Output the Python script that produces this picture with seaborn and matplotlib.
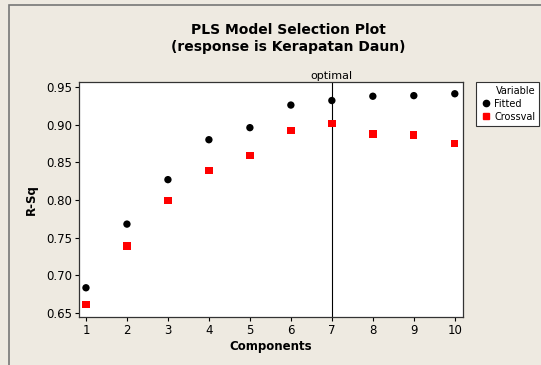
import matplotlib
matplotlib.use("Agg")
import matplotlib.pyplot as plt
import seaborn as sns
import pandas as pd
from matplotlib.patches import Rectangle
from matplotlib.lines import Line2D

components = [1, 2, 3, 4, 5, 6, 7, 8, 9, 10]
fitted = [0.6835, 0.768, 0.827, 0.880, 0.896, 0.926, 0.932, 0.9377, 0.9385, 0.941]
crossval = [0.661, 0.739, 0.799, 0.839, 0.859, 0.8926, 0.9014, 0.8877, 0.8864, 0.8753]
optimal = 7
yticks = [0.65, 0.70, 0.75, 0.80, 0.85, 0.90, 0.95]

df = pd.DataFrame({
    "Components": components * 2,
    "R-Sq": fitted + crossval,
    "Variable": ["Fitted"] * len(components) + ["Crossval"] * len(components),
})

sns.set_style("white")
plt.rcParams['font.family'] = ['DejaVu Sans']
for k in ["text.color", "axes.labelcolor", "xtick.color", "ytick.color"]:
    plt.rcParams[k] = "black"
bg = "#EEEAE1"
fig = plt.figure(figsize=(5.41, 3.65), dpi=100, facecolor=bg)
ax = fig.add_axes([79/541, 1-317/365, (463-79)/541, (317-82)/365])
ax.set_facecolor("white")

sns.scatterplot(data=df, x="Components", y="R-Sq", hue="Variable", style="Variable",
                palette={"Fitted": "black", "Crossval": "#FF0000"},
                markers={"Fitted": "o", "Crossval": "s"},
                s=28, linewidth=0, legend=False, ax=ax, zorder=3)

ax.axvline(optimal, color="black", lw=0.8, zorder=2)
ax.text(optimal, 0.9575, "optimal", ha="center", va="bottom", fontsize=8)

ax.set_xlim(0.83, 10.2)
ax.set_ylim(0.6447, 0.9566)
ax.set_xticks(components)
ax.set_yticks(yticks)
ax.set_yticklabels([f"{v:.2f}" for v in yticks])
ax.tick_params(axis="both", labelsize=8.5, length=3, width=0.8, direction="out",
               bottom=True, left=True, pad=2)
for sp in ax.spines.values():
    sp.set_color("#333333")
    sp.set_linewidth(0.9)
ax.set_xlabel("Components", fontsize=8.5, fontweight="bold", labelpad=2)
ax.set_ylabel("R-Sq", fontsize=8.5, fontweight="bold", labelpad=6)

fig.text(288/541, 1-30/365, "PLS Model Selection Plot", ha="center", va="center",
         fontsize=10, fontweight="bold")
fig.text(288/541, 1-47/365, "(response is Kerapatan Daun)", ha="center", va="center",
         fontsize=10, fontweight="bold")

# outer frame
fig.patches.append(Rectangle((9/541, -0.05), 1.0, 1-5/365 + 0.05, transform=fig.transFigure,
                             fill=False, edgecolor="#777777", lw=1.2))

handles = [Line2D([], [], marker="o", color="black", ls="none", markersize=4.5),
           Line2D([], [], marker="s", color="#FF0000", ls="none", markersize=4.5)]
leg = fig.legend(handles, ["Fitted", "Crossval"], title="Variable",
                 loc="upper left", bbox_to_anchor=(476/541, 1-82/365),
                 fontsize=7, title_fontsize=7, frameon=True, fancybox=False,
                 borderpad=0.4, handletextpad=0.3, handlelength=1.2,
                 labelspacing=0.3, borderaxespad=0)
leg.get_frame().set_edgecolor("#333333")
leg.get_frame().set_linewidth(0.8)
leg.get_frame().set_facecolor("white")
leg.get_frame().set_alpha(1)
leg._legend_box.align = "right"

fig.savefig("out.png", dpi=100, facecolor=bg)
